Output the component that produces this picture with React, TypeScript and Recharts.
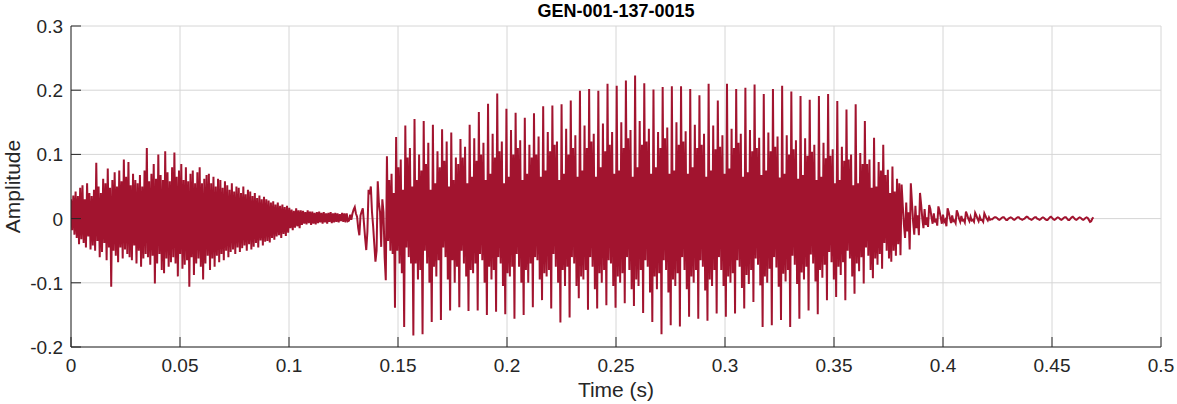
import React from "react";
import { LineChart, Line, XAxis, YAxis, CartesianGrid } from "recharts";

const TITLE = "GEN-001-137-0015";
const X_LABEL = "Time (s)";
const Y_LABEL = "Amplitude";
const X_TICKS = [0, 0.05, 0.1, 0.15, 0.2, 0.25, 0.3, 0.35, 0.4, 0.45, 0.5];
const Y_TICKS = [-0.2, -0.1, 0, 0.1, 0.2, 0.3];

// spacing between the stored samples, seconds
const SAMPLE_STEP = 0.000527;

// all amplitudes are in thousandths
// fricative noise at the start (0 – 0.127 s)
const onsetNoise = [
  30, -18, 36, -25, 42, -30, 35, -40, 48, -32,
  52, -38, 30, -45, 55, -28, 40, -48, 35, -42,
  45, -50, 87, -35, 50, -60, 40, -52, 62, -38,
  55, -65, 78, -45, 48, -106, 60, -50, 72, -58,
  50, -68, 75, -45, 58, -62, 92, -48, 65, -55,
  88, -60, 52, -65, 70, -42, 60, -70, 55, -50,
  68, -75, 50, -62, 75, -55, 110, -60, 58, -72,
  70, -58, 85, -101, 62, -70, 100, -55, 68, -80,
  60, -85, 105, -62, 72, -75, 58, -68, 80, -60,
  103, -70, 65, -90, 75, -55, 85, -78, 60, -72,
  80, -65, 58, -106, 70, -60, 75, -88, 55, -70,
  72, -62, 80, -75, 55, -95, 62, -70, 68, -58,
  70, -80, 55, -62, 65, -75, 50, -58, 62, -68,
  60, -55, 48, -65, 58, -50, 52, -60, 45, -52,
  55, -48, 42, -55, 50, -45, 48, -52, 40, -46,
  50, -42, 38, -50, 45, -40, 42, -48, 35, -44,
  40, -38, 32, -45, 36, -34, 30, -42, 34, -36,
  30, -35, 28, -37, 25, -30, 27, -33, 22, -28,
  25, -26, 20, -30, 22, -24, 18, -27, 20, -22,
  17, -15, 14, -18, 12, -14, 16, -12, 13, -15,
  13, -10, 12, -8, 10, -9, 13, -7, 11, -10,
  11, -8, 9, -9, 10, -7, 11, -6, 9, -8,
  10, -6, 8, -8, 9, -5, 10, -7, 8, -6,
  9, -5, 8, -6, 7, -4, 9, -5, 8, -6,
  8, -4,
];

// first small pitch periods before the vowel
const preVoicing = [
  [-3, 6, -2, 8, 14, 18, 8, 3],
  [-15, -26, 5, 11, 16, -7, -30, -49],
  [-20, 45, 38, 50, 10, -12, -40, -67],
  [-50, 58, 24, 10, -44, 30, 10, -60],
];

// one row per pitch period: trough, main peak, then the ripple inside the period
const voicedPeriods = [
  [-96, 97, -35, 60, -50, 70, -55, 40],
  [-139, 127, -50, 80, -70, 92, -85, 45],
  [-169, 145, -45, 95, -60, 110, -70, 50],
  [-182, 155, -70, 60, -95, 100, -80, 75],
  [-180, 152, -50, 85, -70, 118, -100, 45],
  [-161, 146, -75, 55, -90, 105, -65, 80],
  [-158, 139, -45, 90, -60, 120, -95, 50],
  [-143, 134, -65, 60, -100, 95, -75, 85],
  [-138, 124, -50, 95, -70, 112, -90, 55],
  [-144, 146, -80, 65, -85, 125, -70, 90],
  [-143, 166, -55, 100, -65, 118, -100, 60],
  [-150, 179, -75, 70, -95, 132, -80, 95],
  [-145, 195, -60, 105, -70, 120, -105, 55],
  [-149, 171, -85, 65, -90, 138, -75, 100],
  [-156, 165, -55, 110, -75, 122, -100, 60],
  [-150, 157, -80, 70, -100, 115, -70, 95],
  [-138, 164, -60, 100, -65, 128, -95, 65],
  [-127, 175, -85, 75, -90, 135, -80, 105],
  [-140, 176, -55, 115, -75, 120, -100, 60],
  [-162, 178, -80, 70, -105, 140, -75, 100],
  [-154, 184, -60, 110, -70, 130, -105, 65],
  [-124, 199, -90, 75, -95, 145, -80, 110],
  [-142, 202, -60, 120, -75, 132, -110, 65],
  [-140, 199, -85, 80, -100, 148, -80, 105],
  [-135, 210, -65, 115, -70, 135, -105, 70],
  [-139, 207, -90, 75, -100, 150, -85, 110],
  [-132, 215, -60, 125, -80, 138, -110, 65],
  [-136, 223, -95, 80, -105, 152, -80, 115],
  [-147, 211, -65, 120, -75, 140, -115, 70],
  [-161, 201, -90, 80, -110, 135, -85, 110],
  [-180, 205, -65, 125, -80, 142, -115, 70],
  [-166, 206, -95, 75, -105, 150, -85, 115],
  [-168, 206, -60, 120, -80, 136, -110, 70],
  [-153, 202, -90, 80, -100, 146, -80, 110],
  [-156, 192, -65, 115, -75, 132, -112, 65],
  [-159, 210, -95, 75, -105, 145, -80, 108],
  [-148, 184, -60, 112, -80, 130, -105, 70],
  [-153, 210, -90, 78, -100, 140, -85, 110],
  [-148, 202, -65, 118, -75, 132, -108, 65],
  [-140, 204, -88, 72, -102, 138, -80, 105],
  [-130, 209, -62, 110, -72, 126, -104, 68],
  [-169, 194, -90, 75, -100, 134, -78, 105],
  [-166, 202, -60, 112, -76, 128, -106, 64],
  [-158, 207, -86, 70, -98, 130, -80, 100],
  [-169, 198, -58, 108, -72, 122, -102, 62],
  [-156, 191, -84, 68, -95, 125, -75, 98],
  [-143, 185, -56, 104, -70, 115, -98, 60],
  [-149, 191, -80, 65, -92, 118, -72, 94],
  [-127, 194, -52, 98, -68, 108, -95, 55],
  [-122, 183, -75, 60, -88, 112, -68, 90],
  [-127, 170, -50, 92, -62, 100, -90, 52],
  [-117, 178, -70, 55, -82, 102, -60, 85],
  [-101, 152, -45, 85, -58, 92, -80, 48],
  [-93, 126, -62, 50, -72, 88, -55, 75],
  [-78, 115, -38, 68, -50, 76, -62, 40],
  [-67, 81, -50, 42, -58, 62, -40, 55],
];

// dying-out periods after the vowel
const decayPeriods = [
  [-57, 53, 20, -10, -30, 25, -20, 10],
  [-48, 55, 25, -5, -25, 20, -15, 5],
  [-26, 40, 22, 0, -15, 15, -10, 2],
  [-13, 21, 15, 2, -8, 8, -6, 0],
  [-11, 19, 12, 2, -8, 6, -5, -2],
  [-12, 16, 10, 1, -7, 5, -4, -3],
  [-7, 13, 8, 0, -5, 4, -3, -2],
  [-6, 11, 6, 0, -4, 3, -3, -2],
  [-5, 9, 5, 0, -4, 3, -2, -2],
  [-5, 8, 4, 0, -3, 2, -2, -1],
];

// near-silence at the end (0.423 – 0.469 s)
const tailNoise = [
  -1, 1, 2, 2, 1, -1, -2, -1, 1, 2,
  2, 0, -2, -2, 0, 1, 2, 1, -1, -2,
  -1, 1, 2, 2, 0, -1, -2, -1, 0, 2,
  3, 2, 0, -1, -2, -1, 1, 2, 2, 0,
  -1, -2, -1, 1, 2, 1, -1, -2, -2, 0,
  2, 3, 1, -1, -2, -1, 1, 2, 1, -1,
  -2, -1, 1, 2, 2, 0, -2, -2, 0, 2,
  3, 1, -1, -2, -1, 1, 2, 1, -1, -2,
  -1, 1, 2, 1, -2, -5, -4, 0, 2,
];

const samples = [
  ...onsetNoise,
  ...preVoicing.flat(),
  ...voicedPeriods.flat(),
  ...decayPeriods.flat(),
  ...tailNoise,
];

const data = samples.map((v, i) => ({ t: i * SAMPLE_STEP, amp: v / 1000 }));

const FONT = '"Liberation Sans", Arial, Helvetica, sans-serif';
const AXIS_COLOR = "#262626";
const TICK_LEN = 10;

const fmt = (v: number) => String(Math.round(v * 100) / 100);

// tick renderers: MATLAB style, tick marks point into the plot box
function BottomTick(props: any) {
  const { x, y, payload } = props;
  return (
    <g>
      <line x1={x} y1={y} x2={x} y2={y - TICK_LEN} stroke={AXIS_COLOR} />
      <text x={x} y={y + 25} textAnchor="middle" fontSize={19} fill={AXIS_COLOR} fontFamily={FONT}>
        {fmt(payload.value)}
      </text>
    </g>
  );
}

function LeftTick(props: any) {
  const { x, y, payload } = props;
  return (
    <g>
      <line x1={x} y1={y} x2={x + TICK_LEN} y2={y} stroke={AXIS_COLOR} />
      <text x={x - 8} y={y + 7} textAnchor="end" fontSize={19} fill={AXIS_COLOR} fontFamily={FONT}>
        {fmt(payload.value)}
      </text>
    </g>
  );
}

function TopTick(props: any) {
  const { x, y } = props;
  return <line x1={x} y1={y} x2={x} y2={y + TICK_LEN} stroke={AXIS_COLOR} />;
}

function RightTick(props: any) {
  const { x, y } = props;
  return <line x1={x} y1={y} x2={x - TICK_LEN} y2={y} stroke={AXIS_COLOR} />;
}

export default function App() {
  return (
    <div style={{ position: "absolute", left: 0, top: 0, width: 1177, height: 404, background: "#fff", fontFamily: FONT }}>
      <LineChart width={1177} height={404} data={data} margin={{ top: 26, right: 16, bottom: 0, left: 0 }}>
        <CartesianGrid stroke="#d6d6d6" />
        <XAxis
          dataKey="t"
          type="number"
          domain={[0, 0.5]}
          ticks={X_TICKS}
          interval={0}
          height={57}
          tickSize={0}
          tickMargin={0}
          tickLine={false}
          tick={BottomTick}
          axisLine={{ stroke: AXIS_COLOR }}
          allowDataOverflow
        />
        <XAxis
          xAxisId="top"
          orientation="top"
          dataKey="t"
          type="number"
          domain={[0, 0.5]}
          ticks={X_TICKS}
          interval={0}
          height={0}
          tickSize={0}
          tickMargin={0}
          tickLine={false}
          tick={TopTick}
          axisLine={{ stroke: AXIS_COLOR }}
          allowDataOverflow
        />
        <YAxis
          type="number"
          domain={[-0.2, 0.3]}
          ticks={Y_TICKS}
          interval={0}
          width={71}
          tickSize={0}
          tickMargin={0}
          tickLine={false}
          tick={LeftTick}
          axisLine={{ stroke: AXIS_COLOR }}
          allowDataOverflow
        />
        <YAxis
          yAxisId="right"
          orientation="right"
          type="number"
          domain={[-0.2, 0.3]}
          ticks={Y_TICKS}
          interval={0}
          width={0}
          tickSize={0}
          tickMargin={0}
          tickLine={false}
          tick={RightTick}
          axisLine={{ stroke: AXIS_COLOR }}
          allowDataOverflow
        />
        <Line
          type="linear"
          dataKey="amp"
          stroke="#A2142F"
          strokeWidth={2}
          dot={false}
          activeDot={false}
          isAnimationActive={false}
        />
      </LineChart>
      <svg width={1177} height={404} style={{ position: "absolute", left: 0, top: 0, pointerEvents: "none" }}>
        <text x={616} y={17} textAnchor="middle" fontSize={18} fontWeight="bold" fill="#000" fontFamily={FONT}>
          {TITLE}
        </text>
        <text x={616} y={397} textAnchor="middle" fontSize={21} fill={AXIS_COLOR} fontFamily={FONT}>
          {X_LABEL}
        </text>
        <text
          transform="translate(20, 186.5) rotate(-90)"
          textAnchor="middle"
          fontSize={21}
          fill={AXIS_COLOR}
          fontFamily={FONT}
        >
          {Y_LABEL}
        </text>
      </svg>
    </div>
  );
}
